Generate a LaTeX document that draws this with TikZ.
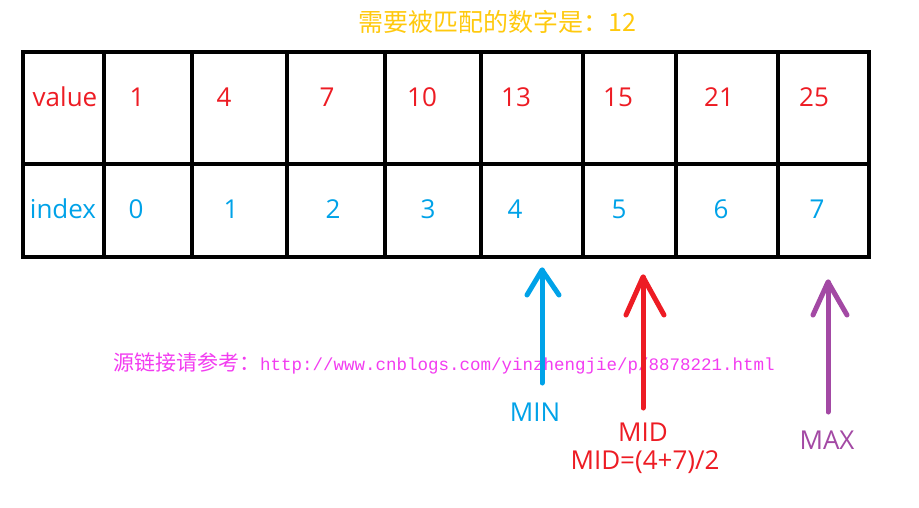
\documentclass[tikz,border=0pt]{standalone}
\usepackage{fontspec}
\setmainfont{Open Sans}
\newfontfamily\cjkfont{Noto Sans CJK SC}
\newfontfamily\urlfont{Liberation Mono}
\definecolor{pred}{HTML}{ED1C24}
\definecolor{pblue}{HTML}{00A2E8}
\definecolor{ppurple}{HTML}{A349A4}
\definecolor{pgold}{HTML}{FFC90E}
\definecolor{pmag}{HTML}{F23CF0}
\tikzset{
  grid/.style={line width=4pt, draw=black},
  valtxt/.style={text=pred, font=\fontsize{26}{30}\selectfont, inner sep=0pt},
  idxtxt/.style={text=pblue, font=\fontsize{26}{30}\selectfont, inner sep=0pt},
  arrowline/.style={line width=5pt, line cap=round, line join=round},
  lbl/.style={font=\fontsize{26}{30}\selectfont, inner sep=0pt},
}
\begin{document}
\begin{tikzpicture}[x=1pt,y=-1pt]
\useasboundingbox (0,0) rectangle (919,507);
% title
\node[text=pgold, inner sep=0pt] (title) at (497,22) {\cjkfont\fontsize{25}{28}\selectfont 需要被匹配的数字是：12};
% table
\draw[grid] (23,52) rectangle (869,257);
\draw[grid] (23,164) -- (869,164);
\foreach \x in {104,192,287,385,481,583,676,778} {
  \draw[grid] (\x,52) -- (\x,257);
}
% row labels
\node[valtxt] (vlab) at (65,97) {value};
\node[idxtxt] (ilab) at (63,209) {index};
% values
\node[valtxt] (v0) at (137,97) {1};
\node[valtxt] (v1) at (224,97) {4};
\node[valtxt] (v2) at (327,97) {7};
\node[valtxt] (v3) at (422,97) {10};
\node[valtxt] (v4) at (516,97) {13};
\node[valtxt] (v5) at (618,97) {15};
\node[valtxt] (v6) at (719,97) {21};
\node[valtxt] (v7) at (814,97) {25};
% indices
\node[idxtxt] (i0) at (136,209) {0};
\node[idxtxt] (i1) at (231,209) {1};
\node[idxtxt] (i2) at (333,209) {2};
\node[idxtxt] (i3) at (428,209) {3};
\node[idxtxt] (i4) at (515,209) {4};
\node[idxtxt] (i5) at (619,209) {5};
\node[idxtxt] (i6) at (721,209) {6};
\node[idxtxt] (i7) at (817,209) {7};
% url
\node[text=pmag, inner sep=0pt, anchor=west] (src) at (113,363) {{\cjkfont\fontsize{21}{24}\selectfont 源链接请参考：}{\urlfont\fontsize{17.5}{20}\selectfont http://www.cnblogs.com/yinzhengjie/p/8878221.html}};
% arrows
\coordinate (minb) at (542,383); \coordinate (mint) at (542,270);
\coordinate (midb) at (643,408); \coordinate (midt) at (643,277);
\coordinate (maxb) at (828,412); \coordinate (maxt) at (828,282);
\draw[arrowline, pblue] (minb) -- (mint);
\draw[arrowline, pblue] (527,295) -- (mint) -- (559,295);
\draw[arrowline, pred] (midb) -- (midt);
\draw[arrowline, pred] (626,315) -- (midt) -- (664,315);
\draw[arrowline, ppurple] (maxb) -- (maxt);
\draw[arrowline, ppurple] (813,315) -- (maxt) -- (847,315);
% labels
\node[lbl, text=pblue] (minl) at (535,412) {MIN};
\node[lbl, text=pred] (midl) at (643,432) {MID};
\node[lbl, text=pred] (midf) at (645,462) {MID=(4+7)/2};
\node[lbl, text=ppurple] (maxl) at (827,440) {MAX};
\end{tikzpicture}
\end{document}
